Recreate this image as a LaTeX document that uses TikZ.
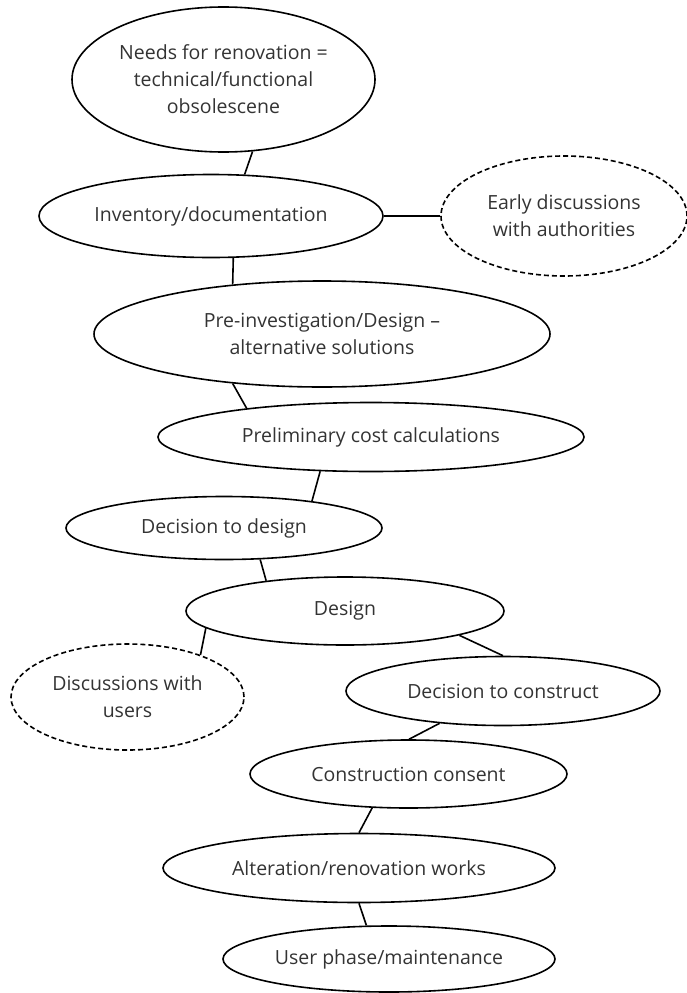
\documentclass[tikz,border=0pt]{standalone}
\usepackage{fontspec}
\setmainfont{Open Sans}
\usetikzlibrary{shapes.geometric}
\tikzstyle{stage} = [draw=black, line width=1.6pt, ellipse, inner sep=0pt, align=center, text=black!80, font={\fontsize{19.5}{27}\selectfont}]
\tikzstyle{side} = [stage, dash pattern=on 5pt off 3pt]
\tikzstyle{link} = [line width=1.6pt]

\begin{document}
\begin{tikzpicture}[x=1pt,y=-1pt]
        \useasboundingbox (0,0) rectangle (686,993);
        \node[stage,minimum width=303pt,minimum height=145pt](needs) at (223.5,79.5){Needs for renovation =\\technical/functional\\obsolescene};
        \node[stage,minimum width=344pt,minimum height=83pt](inv) at (211,216){Inventory/documentation};
        \node[side,minimum width=246pt,minimum height=120pt](early) at (564,216){Early discussions\\with authorities};
        \node[stage,minimum width=456pt,minimum height=106pt](pre) at (322,334){Pre-investigation/Design --\\alternative solutions};
        \node[stage,minimum width=426pt,minimum height=69pt](cost) at (371,437){Preliminary cost calculations};
        \node[stage,minimum width=316pt,minimum height=63pt](decdes) at (224,528){Decision to design};
        \node[stage,minimum width=318pt,minimum height=68pt](design) at (345,611){Design};
        \node[side,minimum width=233pt,minimum height=106pt](users) at (127.5,697){Discussions with\\users};
        \node[stage,minimum width=314pt,minimum height=69pt](deccon) at (503,691){Decision to construct};
        \node[stage,minimum width=317pt,minimum height=68pt](consent) at (408.5,774){Construction consent};
        \node[stage,minimum width=392pt,minimum height=69pt](works) at (359,868){Alteration/renovation works};
        \node[stage,minimum width=332pt,minimum height=66pt](use) at (389,959){User phase/maintenance};
        \draw[link](needs.-68.5)--(inv.51);
        \draw[link](inv)--(early);
        \draw[link](inv.-62)--(pre.151);
        \draw[link](pre.-151)--(cost.167);
        \draw[link](cost.-146)--(decdes.17);
        \draw[link](decdes.-41)--(design.159);
        \draw[link](design.-173)--(users.30);
        \draw[link](design.-12)--(deccon.north);
        \draw[link](deccon.-153)--(consent.89);
        \draw[link](consent.-137)--(works.north);
        \draw[link](works.south)--(use.124);
      \end{tikzpicture}
\end{document}
